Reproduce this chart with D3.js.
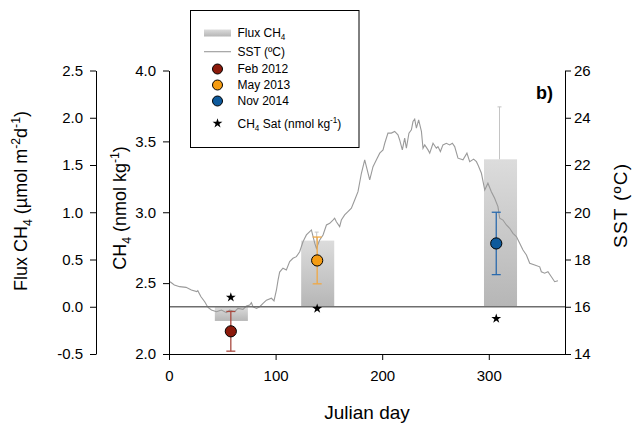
<!DOCTYPE html>
<html>
<head>
<meta charset="utf-8">
<script src="https://cdn.jsdelivr.net/npm/d3@7"></script>
<style>
  body { margin: 0; background: #fff; }
  svg { display: block; font-family: "Liberation Sans", Arial, sans-serif; }
</style>
</head>
<body>
<script>
// flux bars (left outer axis)
var fluxDays = [58.5, 139.5, 311];
var fluxValues = [-0.15, 0.70, 1.56];
var fluxErrors = [0, 0.09, 0.555];

// CH4 concentration points (inner left axis)
var surveys = ["Feb 2012", "May 2013", "Nov 2014"];
var ch4Days = [58, 139, 307];
var ch4Values = [2.16, 2.66, 2.78];
var ch4Errors = [0.14, 0.165, 0.22];
var ch4Sat = [2.40, 2.32, 2.25];
var surveyColors = ["#8c1a0b", "#f59c12", "#0e5a9c"];
var errorColors = ["#a84a40", "#f0a845", "#2a6aad"];

// daily SST
var sstDays = [1, 5, 10, 16, 21, 26, 27, 30, 33.5, 36.6, 39.8, 44.5, 49.2, 53.8, 56.9, 61.6, 64.7, 69.4,
  72.6, 75.7, 77.3, 78.8, 82, 85.1, 88.2, 91.4, 96.1, 98.5, 100.8, 102.3, 103.8, 106.9, 110.1, 113.2,
  116.3, 119.5, 122.6, 125.7, 128.9, 132, 133.6, 136.7, 138.3, 141.4, 144.5, 147.7, 150.8, 153.8, 155.4,
  157, 160.1, 161.7, 164.8, 167.9, 171.1, 174.2, 177.3, 180.5, 183.6, 188.3, 191.4, 194.6, 197.7, 200.8,
  202.4, 205.4, 208.6, 211.7, 214.8, 216.4, 218.9, 221.1, 222.7, 225.1, 227.4, 228.9, 230.5, 232.1,
  234.2, 236.8, 238.3, 239.9, 243, 244.6, 247.7, 250.8, 252.3, 254.6, 257, 260.2, 263.3, 265.8, 268,
  271.1, 275.8, 279.5, 282.1, 285.8, 288.4, 289.9, 293.1, 296.2, 299.2, 302.4, 305.5, 308.6, 310.2,
  313.3, 316.5, 319.6, 322.7, 325.9, 329, 332.1, 335.3, 338.4, 343.1, 347.8, 349.3, 352.4, 355.5,
  358.7, 361.8, 364.9];
var sstValues = [17.06, 16.92, 16.85, 16.82, 16.71, 16.64, 16.68, 16.42, 16.21, 15.97, 15.86, 15.79,
  15.86, 15.75, 15.86, 15.79, 15.93, 15.89, 16.03, 16.07, 16.17, 16.0, 15.93, 16.0, 16.14, 16.28, 16.36,
  16.25, 16.71, 17.13, 17.47, 17.63, 17.56, 17.91, 18.05, 18.12, 18.33, 18.75, 19.04, 19.18, 19.25,
  18.69, 18.47, 18.83, 19.04, 19.46, 19.53, 19.67, 19.75, 19.60, 19.39, 19.67, 19.89, 20.03, 20.17,
  20.52, 20.87, 21.65, 22.22, 21.37, 21.93, 22.22, 22.5, 22.64, 22.92, 23.35, 23.35, 23.42, 23.28,
  23.06, 22.64, 23.14, 22.71, 23.35, 23.49, 23.84, 23.94, 23.56, 23.91, 23.42, 22.71, 22.85, 22.64,
  22.5, 22.92, 22.71, 22.78, 22.57, 22.85, 22.92, 22.85, 22.92, 22.78, 22.29, 22.22, 22.5, 22.14,
  22.25, 22.14, 22.0, 21.65, 20.94, 21.23, 20.87, 20.59, 20.24, 19.75, 19.67, 19.46, 19.32, 19.11,
  18.97, 18.69, 18.40, 18.19, 17.84, 17.77, 17.69, 17.48, 17.42, 17.48, 17.27, 17.06, 17.10];

var dayTicks = [0, 100, 200, 300];
var fluxTicks = [-0.5, 0, 0.5, 1, 1.5, 2, 2.5];
var ch4Ticks = [2, 2.5, 3, 3.5, 4];
var sstTicks = [14, 16, 18, 20, 22, 24, 26];

function init() {
    var width = 635, height = 428;
    var left = 169, right = 565, top = 70.5, bottom = 354;

    var svg = d3.select("body").append("svg")
        .attr("width", width)
        .attr("height", height);

    var defs = svg.append("defs");
    var grad = defs.append("linearGradient")
        .attr("id", "barGrad")
        .attr("x1", 0).attr("y1", 0).attr("x2", 0).attr("y2", 1);
    grad.append("stop").attr("offset", "0%").attr("stop-color", "#dcdcdc");
    grad.append("stop").attr("offset", "100%").attr("stop-color", "#b6b6b6");

    var x = d3.scaleLinear().domain([0, 371.5]).range([left, right]);
    var yFlux = d3.scaleLinear().domain([-0.5, 2.5]).range([bottom, top]);
    var yCh4 = d3.scaleLinear().domain([2, 4]).range([bottom, top]);
    var ySst = d3.scaleLinear().domain([14, 26]).range([bottom, top]);

    var barHalf = 15.5; // days

    // flux bars
    svg.selectAll(".bar")
        .data(fluxDays)
        .enter()
        .append("rect")
        .attr("x", function(d) { return x(d - barHalf); })
        .attr("width", function(d) { return x(d + barHalf) - x(d - barHalf); })
        .attr("y", function(d, i) { return yFlux(Math.max(0, fluxValues[i])); })
        .attr("height", function(d, i) { return Math.abs(yFlux(fluxValues[i]) - yFlux(0)); })
        .attr("fill", "url(#barGrad)");

    // flux error bars (upper only)
    fluxDays.forEach(function(d, i) {
        if (!fluxErrors[i]) return;
        var xc = x(d) - 1, y0 = yFlux(fluxValues[i]), y1 = yFlux(fluxValues[i] + fluxErrors[i]);
        svg.append("line").attr("x1", xc).attr("x2", xc).attr("y1", y0).attr("y2", y1)
            .attr("stroke", "#c4c4c4").attr("stroke-width", 1);
        svg.append("line").attr("x1", xc - 2).attr("x2", xc + 2).attr("y1", y1).attr("y2", y1)
            .attr("stroke", "#c4c4c4").attr("stroke-width", 1);
    });

    // SST line
    var line = d3.line()
        .x(function(d, i) { return x(sstDays[i]); })
        .y(function(d) { return ySst(d); });
    svg.append("path")
        .datum(sstValues)
        .attr("d", line)
        .attr("fill", "none")
        .attr("stroke", "#9a9a9a")
        .attr("stroke-width", 1.1);

    // zero flux line
    svg.append("line")
        .attr("x1", left).attr("x2", right)
        .attr("y1", yFlux(0)).attr("y2", yFlux(0))
        .attr("stroke", "#6e6e6e")
        .attr("stroke-width", 1.6);

    // CH4 error bars and points
    ch4Days.forEach(function(d, i) {
        var xc = x(d), lo = yCh4(ch4Values[i] - ch4Errors[i]), hi = yCh4(ch4Values[i] + ch4Errors[i]);
        var g = svg.append("g").attr("stroke", errorColors[i]).attr("stroke-width", 1.3);
        g.append("line").attr("x1", xc).attr("x2", xc).attr("y1", lo).attr("y2", hi);
        g.append("line").attr("x1", xc - 4.5).attr("x2", xc + 4.5).attr("y1", lo).attr("y2", lo);
        g.append("line").attr("x1", xc - 4.5).attr("x2", xc + 4.5).attr("y1", hi).attr("y2", hi);
    });

    svg.selectAll(".pt")
        .data(ch4Values)
        .enter()
        .append("circle")
        .attr("cx", function(d, i) { return x(ch4Days[i]); })
        .attr("cy", function(d) { return yCh4(d); })
        .attr("r", 5.6)
        .attr("fill", function(d, i) { return surveyColors[i]; })
        .attr("stroke", "#000")
        .attr("stroke-width", 1);

    var star = d3.symbol().type(d3.symbolStar).size(30);
    svg.selectAll(".star")
        .data(ch4Sat)
        .enter()
        .append("path")
        .attr("d", star)
        .attr("transform", function(d, i) { return "translate(" + x(ch4Days[i]) + "," + yCh4(d) + ")"; })
        .attr("fill", "#000");

    // axes
    var fmt1 = function(v) { return d3.format(".1f")(v).replace("−", "-"); };
    var fluxAxis = svg.append("g")
        .attr("transform", "translate(96,0)")
        .call(d3.axisLeft(yFlux).tickValues(fluxTicks).tickFormat(fmt1).tickSize(6).tickSizeOuter(0).tickPadding(7));
    var ch4Axis = svg.append("g")
        .attr("transform", "translate(" + left + ",0)")
        .call(d3.axisLeft(yCh4).tickValues(ch4Ticks).tickFormat(fmt1).tickSize(6).tickSizeOuter(0).tickPadding(7));
    var sstAxis = svg.append("g")
        .attr("transform", "translate(" + right + ",0)")
        .call(d3.axisRight(ySst).tickValues(sstTicks).tickFormat(d3.format("d")).tickSize(6).tickSizeOuter(0).tickPadding(3));
    var xAxis = svg.append("g")
        .attr("transform", "translate(0," + bottom + ")")
        .call(d3.axisBottom(x).tickValues(dayTicks).tickFormat(d3.format("d")).tickSize(6).tickSizeOuter(0).tickPadding(10));

    [fluxAxis, ch4Axis, sstAxis, xAxis].forEach(function(a) {
        a.selectAll("text").attr("font-size", 15).attr("font-family", "Liberation Sans, Arial, sans-serif").attr("fill", "#000");
        a.selectAll("line, path").attr("stroke", "#000");
    });

    // rich text helper for sub/superscripts
    function richText(sel, parts, size) {
        var cur = 0;
        parts.forEach(function(p) {
            var shift = p[1] === "sub" ? size * 0.28 : (p[1] === "sup" ? -size * 0.4 : 0);
            sel.append("tspan")
                .attr("dy", shift - cur)
                .attr("font-size", p[1] ? size * 0.68 : size)
                .text(p[0]);
            cur = shift;
        });
    }

    var t1 = svg.append("text").attr("text-anchor", "middle")
        .attr("transform", "translate(27,201) rotate(-90)");
    richText(t1, [["Flux CH"], ["4", "sub"], [" (µmol m"], ["-2", "sup"], ["d"], ["-1", "sup"], [")"]], 18);

    var t2 = svg.append("text").attr("text-anchor", "middle")
        .attr("transform", "translate(126,208) rotate(-90)");
    richText(t2, [["CH"], ["4", "sub"], [" (nmol kg"], ["-1", "sup"], [")"]], 18);

    svg.append("text").attr("text-anchor", "middle")
        .attr("transform", "translate(627,206) rotate(-90)")
        .attr("font-size", 19)
        .attr("textLength", 84)
        .attr("lengthAdjust", "spacing")
        .text("SST (ºC)");

    svg.append("text").attr("text-anchor", "middle")
        .attr("x", (left + right) / 2).attr("y", 419)
        .attr("font-size", 19)
        .text("Julian day");

    svg.append("text")
        .attr("x", 536).attr("y", 99)
        .attr("font-size", 18).attr("font-weight", "bold")
        .text("b)");

    // legend
    var lg = svg.append("g");
    lg.append("rect")
        .attr("x", 190.5).attr("y", 10.5).attr("width", 168.5).attr("height", 137)
        .attr("fill", "#fff").attr("stroke", "#000").attr("stroke-width", 1);
    lg.append("rect")
        .attr("x", 204).attr("y", 29.5).attr("width", 27).attr("height", 7)
        .attr("fill", "url(#barGrad)");
    var lt = lg.append("text").attr("x", 237.5).attr("y", 36.5);
    richText(lt, [["Flux CH"], ["4", "sub"]], 12);
    lg.append("line").attr("x1", 204).attr("x2", 231).attr("y1", 51.7).attr("y2", 51.7)
        .attr("stroke", "#9a9a9a").attr("stroke-width", 1.1);
    lg.append("text").attr("x", 237.5).attr("y", 56).attr("font-size", 12).text("SST (ºC)");
    var legY = [69, 85, 101];
    surveys.forEach(function(s, i) {
        lg.append("circle").attr("cx", 217.5).attr("cy", legY[i]).attr("r", 5)
            .attr("fill", surveyColors[i]).attr("stroke", "#000").attr("stroke-width", 1);
        lg.append("text").attr("x", 237.5).attr("y", legY[i] + 4).attr("font-size", 12).text(s);
    });
    lg.append("path").attr("d", star).attr("transform", "translate(217.5,123.3)").attr("fill", "#000");
    var ls = lg.append("text").attr("x", 237.5).attr("y", 128);
    richText(ls, [["CH"], ["4", "sub"], [" Sat (nmol kg"], ["-1", "sup"], [")"]], 12);
}

window.onload = init;
</script>
</body>
</html>
